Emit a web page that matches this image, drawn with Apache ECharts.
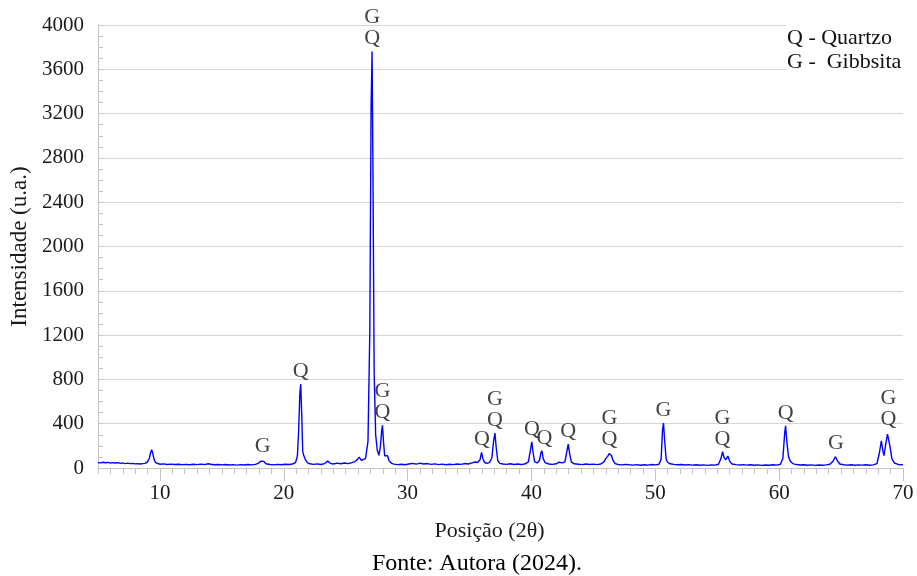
<!DOCTYPE html>
<html>
<head>
<meta charset="utf-8">
<script src="https://cdn.jsdelivr.net/npm/echarts@6/dist/echarts.min.js"></script>
<style>
html,body{margin:0;padding:0;background:#fff;}
#chart{width:917px;height:576px;}
</style>
</head>
<body>
<div id="chart"></div>
<script>
// ---- data ----
var twoTheta = [5.0,5.2,5.4,5.6,5.8,6.0,6.2,6.4,6.6,6.8,7.0,7.2,7.4,7.6,7.8,8.0,8.2,8.4,8.6,8.8,9.0,9.15,9.25,9.33,9.42,9.52,9.65,9.8,
10.0,10.3,10.6,10.9,11.2,11.5,11.8,12.1,12.4,12.7,13.0,13.3,13.6,13.9,14.1,14.4,14.7,15.0,15.3,15.6,15.9,16.2,16.5,16.8,17.1,17.4,17.7,17.95,18.15,18.28,18.4,18.55,18.7,18.9,19.2,19.5,19.8,
20.1,20.4,20.7,20.95,21.1,21.2,21.3,21.37,21.45,21.53,21.62,21.75,21.9,22.1,22.4,22.7,23.0,23.3,23.55,23.75,24.0,24.3,24.6,24.9,25.2,25.5,25.75,25.95,26.1,26.25,26.4,26.6,26.8,26.95,27.05,27.13,27.2,27.3,27.42,27.55,27.68,27.8,27.9,27.97,28.05,28.15,28.28,28.38,28.5,28.7,28.9,29.2,29.5,29.8,
30.1,30.4,30.7,31.0,31.3,31.6,31.9,32.2,32.5,32.8,33.1,33.4,33.7,34.0,34.3,34.6,34.9,35.2,35.45,35.65,35.85,35.97,36.07,36.2,36.4,36.6,36.8,36.95,37.05,37.15,37.28,37.45,37.7,38.0,38.3,38.6,38.9,39.2,39.5,39.75,39.9,
40.03,40.13,40.25,40.45,40.65,40.76,40.84,40.95,41.1,41.4,41.7,42.0,42.2,42.35,42.5,42.7,42.85,42.97,43.08,43.22,43.45,43.8,44.1,44.4,44.7,45.0,45.3,45.6,45.85,46.0,46.15,46.28,46.36,46.45,46.58,46.75,47.0,47.3,47.6,47.9,48.2,48.5,48.8,49.1,49.4,49.7,
50.0,50.3,50.47,50.58,50.66,50.76,50.88,51.0,51.2,51.5,51.8,52.1,52.4,52.7,53.0,53.3,53.6,53.9,54.2,54.5,54.8,55.1,55.3,55.43,55.55,55.7,55.86,56.0,56.2,56.5,56.8,57.1,57.4,57.7,58.0,58.3,58.6,58.9,59.2,59.5,59.8,
60.1,60.3,60.45,60.52,60.62,60.75,60.9,61.1,61.4,61.7,62.0,62.3,62.6,62.9,63.2,63.5,63.8,64.1,64.35,64.55,64.7,64.9,65.2,65.5,65.8,66.1,66.4,66.7,67.0,67.3,67.6,67.9,68.1,68.25,68.38,68.46,68.6,68.75,68.83,68.95,69.1,69.3,69.6,70.0];

var intensity = [50,46,52,47,51,44,49,45,48,42,46,40,44,39,42,37,40,36,39,42,55,90,140,165,135,80,48,38,
34,37,32,35,31,34,30,33,29,34,30,35,31,38,34,29,32,28,31,27,30,26,30,27,31,28,33,42,62,80,60,38,44,32,28,33,29,
34,31,36,48,110,330,680,757,480,150,110,75,48,38,33,37,32,40,62,42,36,44,38,45,40,48,58,78,98,70,58,85,240,1250,3250,3760,2700,850,300,160,115,190,330,385,240,110,105,110,65,42,35,30,34,29,
36,42,35,44,36,40,33,37,30,35,29,34,30,36,33,40,36,46,54,50,75,140,88,52,42,48,90,250,315,190,65,42,36,33,38,32,36,31,38,55,150,
237,140,58,45,70,135,156,85,48,36,33,38,52,62,46,55,145,216,130,55,38,34,30,36,32,35,30,36,55,85,105,130,140,115,70,40,32,28,33,29,26,30,25,29,26,31,
28,34,80,340,405,240,75,52,38,33,29,32,27,30,26,29,25,28,24,28,26,34,85,147,95,75,108,62,36,30,27,30,26,29,25,28,24,27,25,29,26,
34,85,320,381,240,105,62,40,31,27,29,25,28,24,27,25,28,34,62,102,65,36,29,26,29,25,28,26,29,25,28,40,140,246,150,111,210,305,321,195,85,45,32,30];

// peak annotations: label x position, peak intensity, text
var annotX    = [18.3, 21.37, 27.13, 27.97, 36.0, 37.05, 40.03, 41.05, 42.97, 46.3, 50.66, 55.43, 60.52, 64.58, 68.83];
var annotY    = [82, 757, 3760, 385, 140, 315, 237, 156, 216, 140, 405, 147, 381, 102, 321];
var annotText = ['G','Q','G\nQ','G\nQ','Q','G\nQ','Q','Q','Q','G\nQ','G','G\nQ','Q','G','G\nQ'];

var xLabelValues = [10, 20, 30, 40, 50, 60, 70];
var legendLines = ['Q - Quartzo', 'G -  Gibbsita'];
var xAxisTitle = 'Posição (2θ)';
var yAxisTitle = 'Intensidade (u.a.)';
var caption = 'Fonte: Autora (2024).';

// ---- chart ----
var serif = '"Liberation Serif","Times New Roman",serif';
var lineData = twoTheta.map(function (x, i) { return [x, intensity[i]]; });
var annotData = annotX.map(function (x, i) { return [x, annotY[i], annotText[i]]; });

var chart = echarts.init(document.getElementById('chart'), null, {renderer: 'canvas'});
chart.setOption({
  animation: false,
  backgroundColor: '#ffffff',
  grid: {left: 98, right: 14, top: 25, bottom: 108, containLabel: false},
  xAxis: [{
    type: 'value', min: 5, max: 70, interval: 1,
    axisLine: {show: true, lineStyle: {color: '#c4c4c4', width: 1}},
    axisTick: {show: true, length: 6, lineStyle: {color: '#c4c4c4'}},
    axisLabel: {show: true, customValues: xLabelValues, margin: 15,
      fontFamily: serif, fontSize: 21, color: '#1a1a1a'},
    splitLine: {show: false},
    name: xAxisTitle, nameLocation: 'middle', nameGap: 52,
    nameTextStyle: {fontFamily: serif, fontSize: 22, color: '#1a1a1a', padding: [0, 22, 0, 0]}
  }, {
    type: 'value', min: 5, max: 70, position: 'bottom',
    axisLine: {show: false},
    axisTick: {show: true, customValues: xLabelValues, length: 13, lineStyle: {color: '#c4c4c4'}},
    axisLabel: {show: false},
    splitLine: {show: false}
  }],
  yAxis: {
    type: 'value', min: 0, max: 4000, interval: 400,
    axisLine: {show: true, lineStyle: {color: '#c4c4c4', width: 1}},
    axisTick: {show: true, inside: true, length: 5, lineStyle: {color: '#c4c4c4'}},
    minorTick: {show: true, splitNumber: 4, length: 5, lineStyle: {color: '#c4c4c4'}},
    axisLabel: {margin: 14, fontFamily: serif, fontSize: 21, color: '#1a1a1a',
      formatter: function (v) { return String(v); }},
    splitLine: {show: true, lineStyle: {color: '#d6d6d6', width: 1}},
    name: yAxisTitle, nameLocation: 'middle', nameGap: 54,
    nameTextStyle: {fontFamily: serif, fontSize: 23, color: '#1a1a1a'}
  },
  series: [{
    type: 'line', xAxisIndex: 0, data: lineData, showSymbol: false, symbol: 'none',
    lineStyle: {color: '#0000ff', width: 1.4}, clip: true, z: 3
  }, {
    type: 'scatter', xAxisIndex: 0, data: annotData, symbolSize: 1,
    itemStyle: {color: 'rgba(0,0,0,0)'}, silent: true, clip: false, z: 4,
    label: {show: true, position: 'top', distance: 2,
      formatter: function (p) { return p.value[2]; },
      fontFamily: serif, fontSize: 22, lineHeight: 21, color: '#111111'}
  }],
  graphic: [
    {type: 'rect', left: 786, top: 18, shape: {width: 124, height: 58}, style: {fill: '#ffffff'}, z: 10},
    {type: 'text', left: 787, top: 27, z: 11, style: {text: legendLines[0], font: '22px ' + serif, fill: '#111111'}},
    {type: 'text', left: 787, top: 51, z: 11, style: {text: legendLines[1], font: '22px ' + serif, fill: '#111111'}},
    {type: 'text', left: 372, top: 552, z: 11, style: {text: caption, font: '24px ' + serif, fill: '#000000'}}
  ]
});
</script>
</body>
</html>
